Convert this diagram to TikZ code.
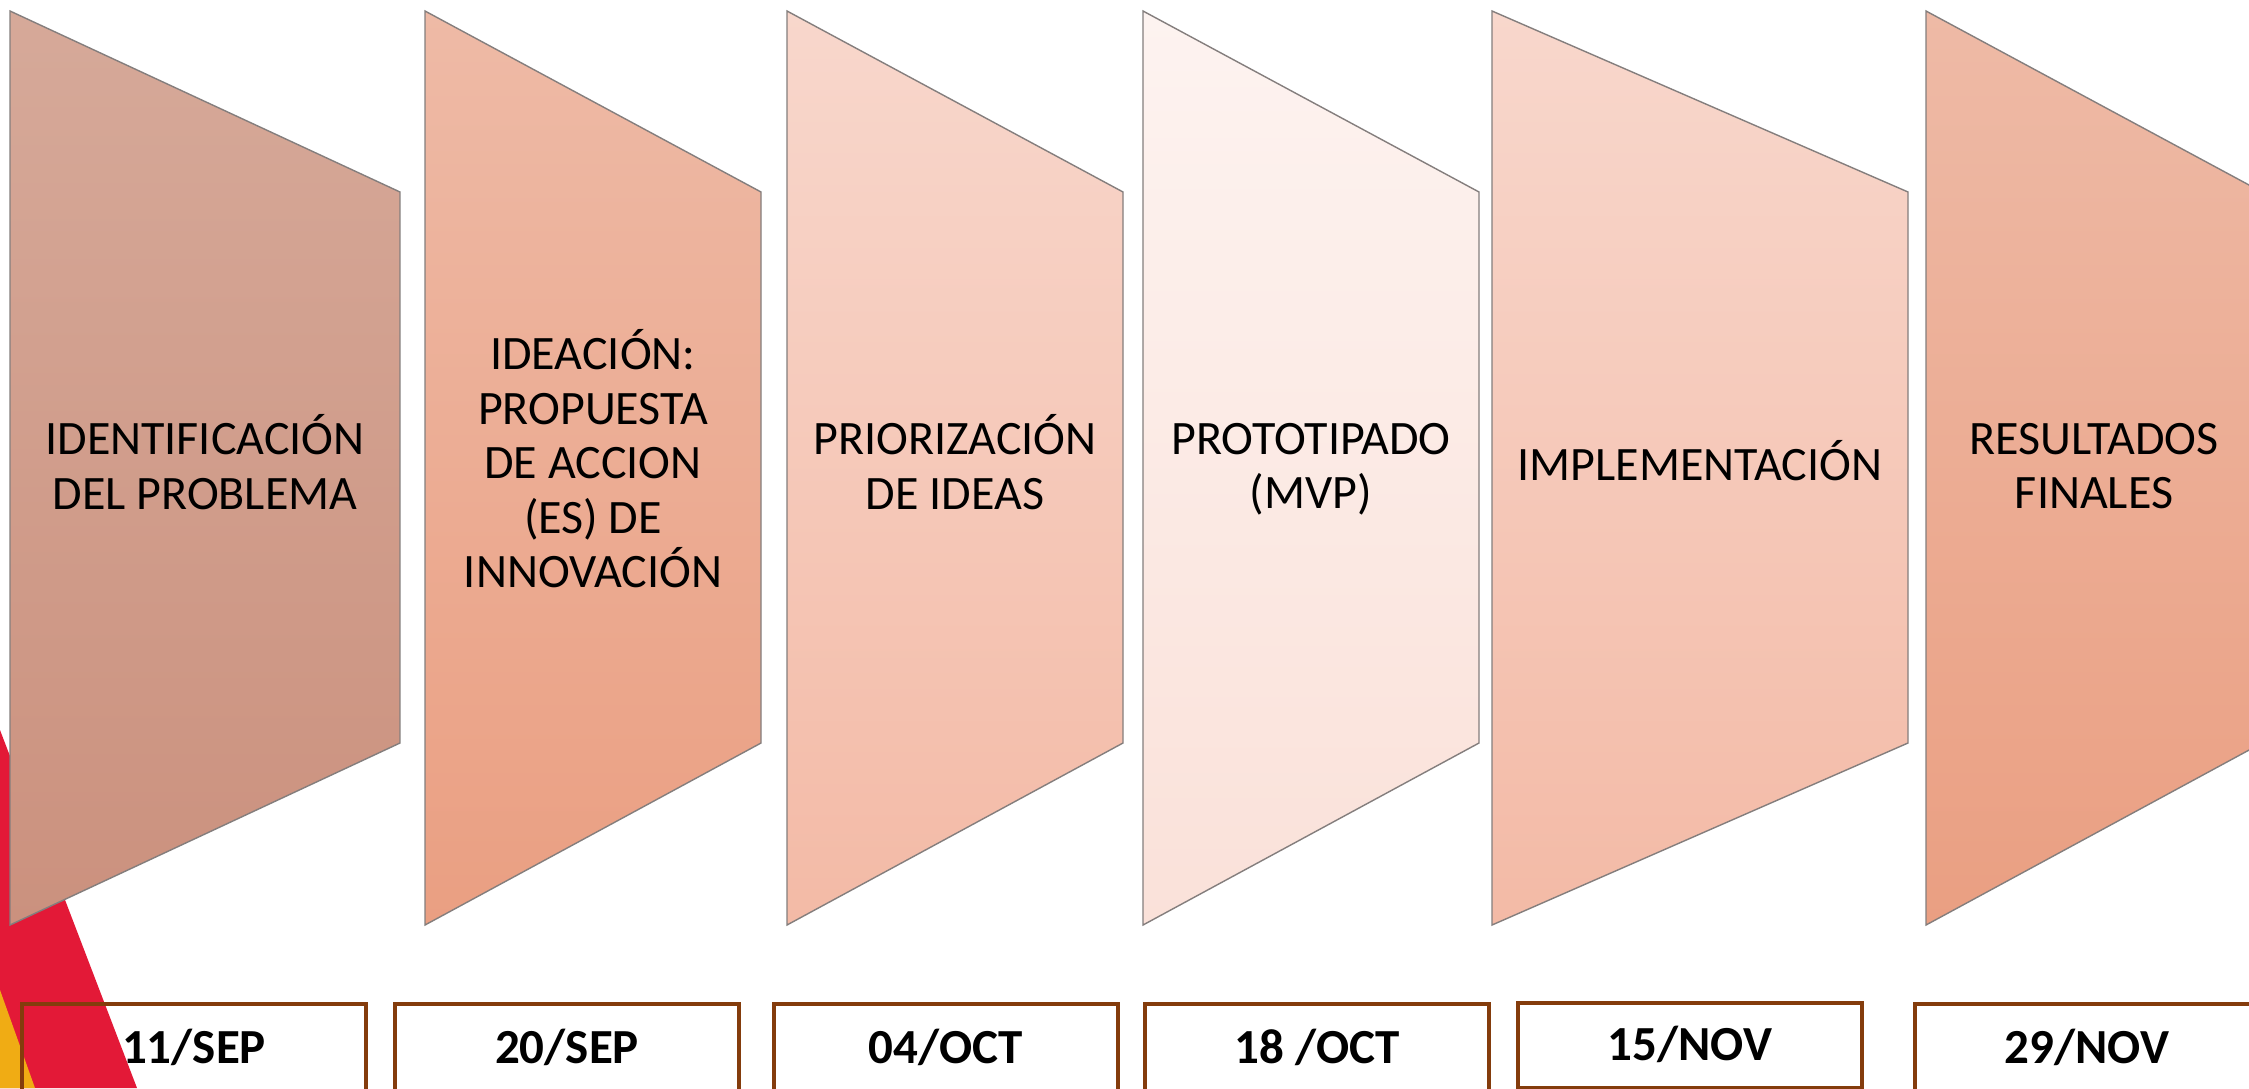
\documentclass[tikz,border=0pt]{standalone}
\usepackage{fontspec}
\setmainfont{Carlito}
\definecolor{sAt}{HTML}{D6A999}
\definecolor{sAb}{HTML}{CB917E}
\definecolor{sBt}{HTML}{EEBAA6}
\definecolor{sBb}{HTML}{EA9F82}
\definecolor{sCt}{HTML}{F8D7CC}
\definecolor{sCb}{HTML}{F3BAA6}
\definecolor{sDt}{HTML}{FDF3F0}
\definecolor{sDb}{HTML}{FAE1D9}
\definecolor{edgegray}{HTML}{847E7D}
\definecolor{accred}{HTML}{E31937}
\definecolor{accyellow}{HTML}{F0AC14}
\definecolor{boxbrown}{HTML}{843C0C}
\tikzset{
  stage/.style={draw=edgegray, line width=1.4pt, line join=miter},
  stagetext/.style={align=center, inner sep=0pt, font=\fontsize{48}{54.5}\selectfont, text=black},
  datebox/.style={draw=boxbrown, line width=4pt, minimum width=344pt, minimum height=88pt,
    inner sep=0pt, text height=31pt, text depth=0pt, font=\bfseries\fontsize{49}{54}\selectfont}
}
\begin{document}
\begin{tikzpicture}[x=1pt,y=-1pt]
\useasboundingbox (0,0) rectangle (2249,1088);
\clip (0,0) rectangle (2249,1088);
\fill[white] (0,0) rectangle (2249,1088);
% accent stripes
\fill[accred] (0,730) -- (137,1088) -- (0,1088) -- cycle;
\fill[accyellow] (0,990) -- (35,1088) -- (0,1088) -- cycle;
% stages
\path[stage, top color=sAt, bottom color=sAb] (10,11) -- (400,192) -- (400,743) -- (10,925) -- cycle;
\path[stage, top color=sBt, bottom color=sBb] (425,11) -- (761,192) -- (761,743) -- (425,925) -- cycle;
\path[stage, top color=sCt, bottom color=sCb] (787,11) -- (1123,192) -- (1123,743) -- (787,925) -- cycle;
\path[stage, top color=sDt, bottom color=sDb] (1143,11) -- (1479,192) -- (1479,743) -- (1143,925) -- cycle;
\path[stage, top color=sCt, bottom color=sCb] (1492,11) -- (1908,192) -- (1908,743) -- (1492,925) -- cycle;
\path[stage, top color=sBt, bottom color=sBb] (1926,11) -- (2262,192) -- (2262,743) -- (1926,925) -- cycle;
% stage labels
\node[stagetext] (t1) at (205,462) {IDENTIFICACIÓN\\DEL PROBLEMA};
\node[stagetext] (t2) at (593,459) {IDEACIÓN:\\PROPUESTA\\DE ACCION\\(ES) DE\\INNOVACIÓN};
\node[stagetext] (t3) at (955,462) {PRIORIZACIÓN\\DE IDEAS};
\node[stagetext] (t4) at (1311,469) {PROTOTIPADO\\(MVP)};
\node[stagetext] (t5) at (1700,461) {IMPLEMENTACIÓN};
\node[stagetext] (t6) at (2094,466) {RESULTADOS\\FINALES};
% date boxes
\node[datebox] (d1) at (194,1048) {11/SEP};
\node[datebox] (d2) at (567,1048) {20/SEP};
\node[datebox] (d3) at (946,1048) {04/OCT};
\node[datebox] (d4) at (1317,1048) {18 /OCT};
\node[datebox, minimum height=85pt] (d5) at (1690,1045) {15/NOV};
\node[datebox] (d6) at (2087,1048) {29/NOV};
\end{tikzpicture}
\end{document}
